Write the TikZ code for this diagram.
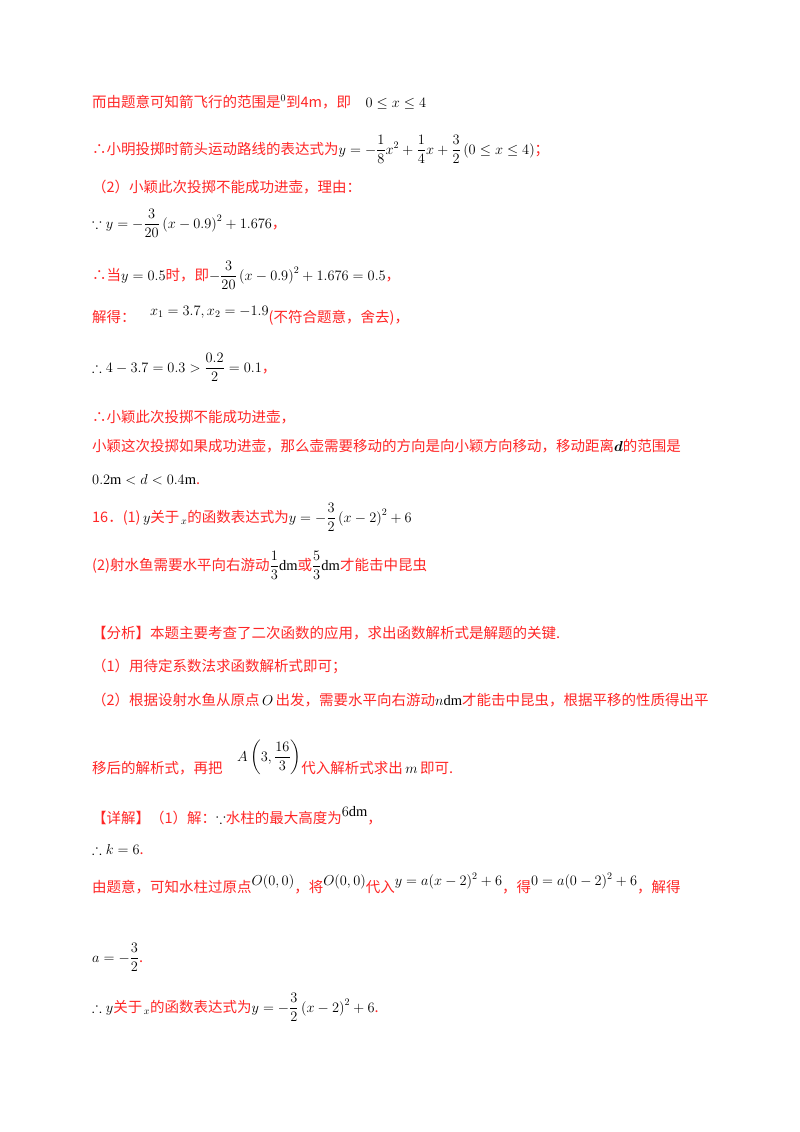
\documentclass[tikz,border=0pt]{standalone}
\usepackage{amsmath,amssymb}
\usepackage{fontspec}
\setmainfont{Liberation Serif}
\newfontfamily\cjk{Noto Sans CJK SC}
\newcommand{\R}[1]{{\color{red!85!white}\cjk #1}}
\newcommand{\up}[1]{\raisebox{7pt}{$#1$}}
\begin{document}
\begin{tikzpicture}[x=1pt,y=-1pt,ln/.style={anchor=base west,inner sep=0pt,font=\fontsize{14.5}{17}\selectfont}]
\useasboundingbox (0,0) rectangle (800,1132);
\node[ln] (l1) at (92,107) {\R{而由题意可知箭飞行的范围是}$^{\scriptstyle 0}$\R{到4m，即}\quad $0\le x\le 4$};
\node[ln] (l2) at (92,154) {\R{∴小明投掷时箭头运动路线的表达式为}$y=-\dfrac18x^2+\dfrac14x+\dfrac32\left(0\le x\le4\right)$\R{；}};
\node[ln] (l3) at (92,192) {\R{（2）小颖此次投掷不能成功进壶，理由：}};
\node[ln] (l4) at (92,228) {$\because y=-\dfrac{3}{20}\left(x-0.9\right)^2+1.676$\R{，}};
\node[ln] (l5) at (92,280) {\R{∴当}$y=0.5$\R{时，即}$-\dfrac{3}{20}\left(x-0.9\right)^2+1.676=0.5$\R{，}};
\node[ln] (l6) at (92,322) {\R{解得：}\quad\up{x_1=3.7,x_2=-1.9}\R{(不符合题意，舍去)，}};
\node[ln] (l7) at (92,372) {$\therefore 4-3.7=0.3>\dfrac{0.2}{2}=0.1$\R{，}};
\node[ln] (l8) at (92,422) {\R{∴小颖此次投掷不能成功进壶，}};
\node[ln] (l9) at (92,451) {\R{小颖这次投掷如果成功进壶，那么壶需要移动的方向是向小颖方向移动，移动距离}$\boldsymbol{d}$\R{的范围是}};
\node[ln] (l10) at (92,484) {$0.2\mathrm{m}<d<0.4\mathrm{m}$\R{.}};
\node[ln] (l11) at (92,522) {\R{16．(1)}$\,y$\R{关于}$_{\,x}$\R{的函数表达式为}$y=-\dfrac32\left(x-2\right)^2+6$};
\node[ln] (l12) at (92,570) {\R{(2)射水鱼需要水平向右游动}$\dfrac13\mathrm{dm}$\R{或}$\dfrac53\mathrm{dm}$\R{才能击中昆虫}};
\node[ln] (l13) at (92,638) {\R{【分析】本题主要考查了二次函数的应用，求出函数解析式是解题的关键.}};
\node[ln] (l14) at (92,671) {\R{（1）用待定系数法求函数解析式即可；}};
\node[ln] (l15) at (92,705) {\R{（2）根据设射水鱼从原点}$\,O\,$\R{出发，需要水平向右游动}$n\mathrm{dm}$\R{才能击中昆虫，根据平移的性质得出平}};
\node[ln] (l16) at (92,773) {\R{移后的解析式，再把}\quad\raisebox{12pt}{$A\left(3,\dfrac{16}{3}\right)$}\R{代入解析式求出}$\,m\,$\R{即可.}};
\node[ln] (l17) at (92,823) {\R{【详解】（1）解：}$\because$\R{水柱的最大高度为}\up{6\mathrm{dm}}\R{，}};
\node[ln] (l18) at (92,854) {$\therefore k=6$\R{.}};
\node[ln] (l19) at (92,892) {\R{由题意，可知水柱过原点}\up{O(0,0)}\R{，将}\up{O(0,0)}\R{代入}\up{y=a(x-2)^2+6}\R{，得}\up{0=a(0-2)^2+6}\R{，解得}};
\node[ln] (l20) at (92,962) {$a=-\dfrac32$\R{.}};
\node[ln] (l21) at (92,1012) {$\therefore y$\R{关于}$_{\,x}$\R{的函数表达式为}$y=-\dfrac32\left(x-2\right)^2+6$\R{.}};
\end{tikzpicture}
\end{document}
